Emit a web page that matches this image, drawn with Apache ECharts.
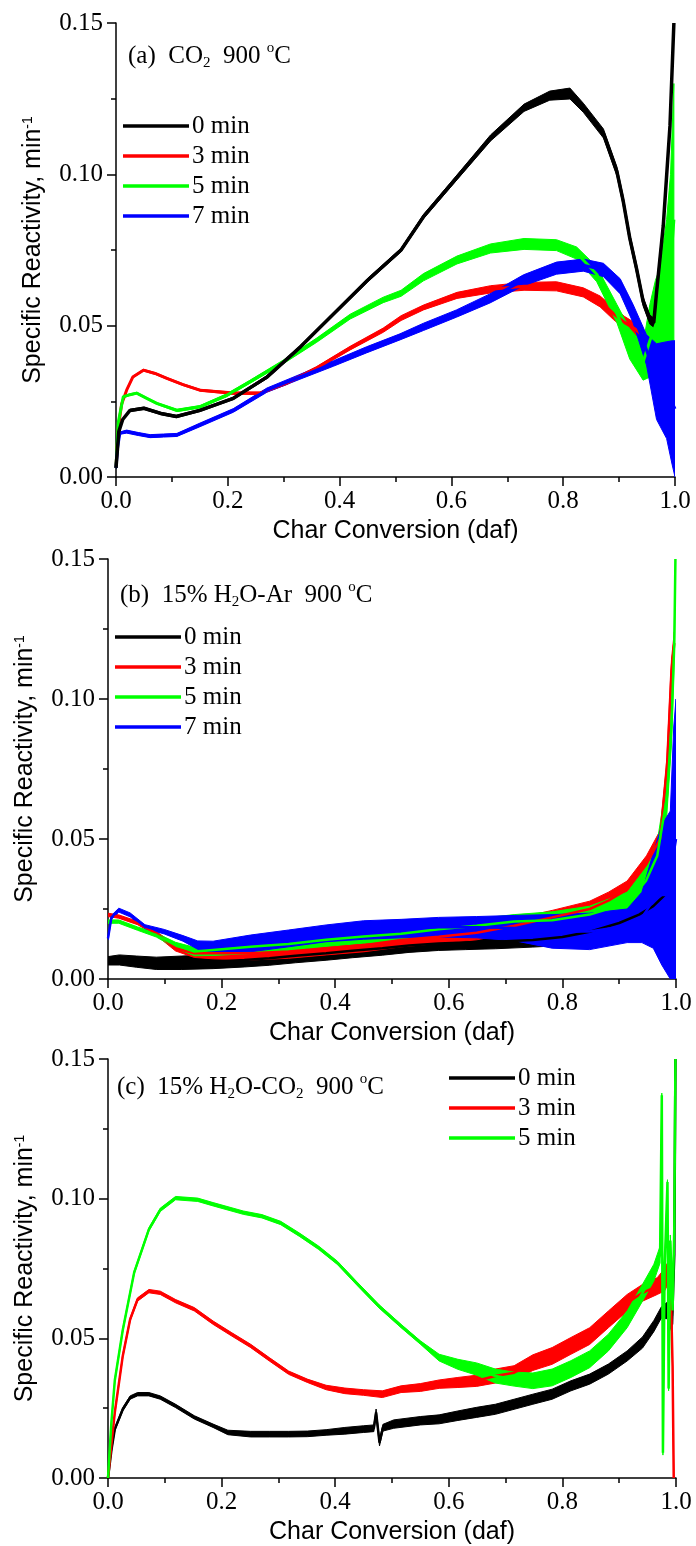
<!DOCTYPE html>
<html><head><meta charset="utf-8">
<script src="https://cdn.jsdelivr.net/npm/echarts@6/dist/echarts.min.js"></script>
<style>html,body{margin:0;padding:0;background:#fff}#c{width:696px;height:1546px}</style>
</head><body><div id="c"></div><script>
// ---------- data ----------
var seriesNames = ['0 min', '3 min', '5 min', '7 min'];
var xTickLabels = ['0.0', '0.2', '0.4', '0.6', '0.8', '1.0'];
var yTickLabels = ['0.00', '0.05', '0.10', '0.15'];

// Panel (a) CO2 900 C  -- x: conversion, y: centre of trace, w: half width of noise band
var aX0 = [0, 0.005, 0.012, 0.025, 0.05, 0.08, 0.108, 0.15, 0.21, 0.27, 0.33, 0.39, 0.45, 0.51, 0.55, 0.61, 0.67, 0.73, 0.776, 0.812, 0.836, 0.872, 0.896, 0.907, 0.919, 0.931, 0.943, 0.955, 0.962, 0.967, 0.979, 0.991, 0.998];
var aY0 = [0.003, 0.015, 0.019, 0.022, 0.0227, 0.021, 0.020, 0.022, 0.026, 0.033, 0.043, 0.054, 0.065, 0.075, 0.086, 0.099, 0.112, 0.122, 0.126, 0.1267, 0.122, 0.1135, 0.101, 0.0915, 0.079, 0.069, 0.058, 0.052, 0.051, 0.061, 0.083, 0.116, 0.15];
var aW0 = [0.0003, 0.0003, 0.0003, 0.0004, 0.0004, 0.0004, 0.0004, 0.0004, 0.0004, 0.0005, 0.0005, 0.0005, 0.0006, 0.0006, 0.0007, 0.0008, 0.001, 0.0012, 0.0015, 0.0018, 0.0015, 0.0015, 0.0015, 0.0015, 0.0015, 0.0015, 0.0015, 0.0015, 0.0015, 0.002, 0.002, 0.002, 0.002];

var aX3 = [0, 0.004, 0.01, 0.019, 0.03, 0.049, 0.07, 0.091, 0.12, 0.15, 0.21, 0.258, 0.305, 0.359, 0.419, 0.478, 0.51, 0.55, 0.61, 0.67, 0.73, 0.788, 0.836, 0.866, 0.89, 0.91, 0.928, 0.94];
var aY3 = [0.003, 0.016, 0.024, 0.0287, 0.033, 0.0353, 0.0342, 0.0326, 0.0305, 0.0287, 0.0277, 0.0277, 0.031, 0.036, 0.0426, 0.0485, 0.0525, 0.056, 0.060, 0.062, 0.063, 0.063, 0.061, 0.058, 0.054, 0.051, 0.049, 0.047];
var aW3 = [0.0003, 0.0003, 0.0003, 0.0003, 0.0003, 0.0003, 0.0003, 0.0003, 0.0003, 0.0003, 0.0004, 0.0004, 0.0005, 0.0005, 0.0006, 0.0007, 0.0008, 0.0008, 0.001, 0.0012, 0.0013, 0.0015, 0.0015, 0.0018, 0.002, 0.002, 0.002, 0.002];

var aX5 = [0, 0.004, 0.013, 0.025, 0.037, 0.055, 0.073, 0.109, 0.15, 0.198, 0.24, 0.299, 0.359, 0.419, 0.478, 0.51, 0.55, 0.61, 0.67, 0.73, 0.788, 0.824, 0.86, 0.896, 0.919, 0.943, 0.955, 0.965, 0.973, 0.985, 0.992, 0.998];
var aY5 = [0.003, 0.018, 0.0265, 0.0272, 0.0277, 0.026, 0.0243, 0.022, 0.0232, 0.027, 0.0315, 0.038, 0.0452, 0.053, 0.0585, 0.0607, 0.066, 0.0717, 0.0755, 0.077, 0.0766, 0.074, 0.067, 0.054, 0.044, 0.038, 0.045, 0.05, 0.052, 0.06, 0.07, 0.085];
var aW5 = [0.0003, 0.0003, 0.0003, 0.0003, 0.0003, 0.0003, 0.0003, 0.0004, 0.0004, 0.0005, 0.0005, 0.0006, 0.0007, 0.0008, 0.0009, 0.001, 0.0012, 0.0013, 0.0015, 0.0018, 0.0018, 0.002, 0.0025, 0.003, 0.005, 0.006, 0.012, 0.015, 0.017, 0.025, 0.03, 0.045];

var aX7 = [0, 0.003, 0.007, 0.019, 0.04, 0.061, 0.085, 0.109, 0.15, 0.21, 0.27, 0.329, 0.389, 0.448, 0.508, 0.55, 0.609, 0.669, 0.729, 0.788, 0.836, 0.872, 0.902, 0.925, 0.949, 0.967, 0.985, 0.995, 1.0];
var aY7 = [0.003, 0.01, 0.0145, 0.015, 0.0142, 0.0135, 0.0137, 0.0139, 0.0172, 0.022, 0.0287, 0.0331, 0.0375, 0.042, 0.0463, 0.0496, 0.054, 0.059, 0.065, 0.069, 0.070, 0.0684, 0.063, 0.054, 0.042, 0.0315, 0.0287, 0.0245, 0.0225];
var aW7 = [0.0003, 0.0004, 0.0004, 0.0005, 0.0005, 0.0005, 0.0005, 0.0005, 0.0006, 0.0006, 0.0007, 0.0008, 0.0009, 0.001, 0.001, 0.0012, 0.0012, 0.0015, 0.0018, 0.002, 0.002, 0.0022, 0.0025, 0.003, 0.005, 0.0125, 0.016, 0.0205, 0.0225];

// Panel (b) 15% H2O-Ar 900 C
var bX0 = [0, 0.02, 0.05, 0.085, 0.13, 0.185, 0.24, 0.284, 0.33, 0.384, 0.43, 0.483, 0.53, 0.582, 0.63, 0.682, 0.748, 0.8, 0.85, 0.9, 0.935, 0.96, 0.98];
var bY0 = [0.0065, 0.0068, 0.0062, 0.0056, 0.0058, 0.0062, 0.0068, 0.0074, 0.0083, 0.0092, 0.0101, 0.011, 0.012, 0.0127, 0.013, 0.0133, 0.0139, 0.015, 0.017, 0.02, 0.023, 0.026, 0.03];
var bW0 = [0.0015, 0.0018, 0.002, 0.0022, 0.0024, 0.0025, 0.0025, 0.0025, 0.0025, 0.0025, 0.0025, 0.0025, 0.0025, 0.0025, 0.0025, 0.0025, 0.0025, 0.003, 0.003, 0.003, 0.003, 0.003, 0.003];

var bX3 = [0, 0.019, 0.052, 0.085, 0.119, 0.152, 0.185, 0.251, 0.318, 0.384, 0.45, 0.516, 0.582, 0.649, 0.715, 0.782, 0.848, 0.881, 0.914, 0.948, 0.972, 0.984, 0.992, 0.997];
var bY3 = [0.0229, 0.0223, 0.020, 0.0163, 0.011, 0.0092, 0.0092, 0.0092, 0.0098, 0.011, 0.0121, 0.0139, 0.0151, 0.0165, 0.019, 0.022, 0.025, 0.028, 0.032, 0.041, 0.05, 0.075, 0.11, 0.12];
var bW3 = [0.0006, 0.0006, 0.0006, 0.0007, 0.001, 0.0015, 0.002, 0.0024, 0.0024, 0.0024, 0.0024, 0.0024, 0.0024, 0.0025, 0.0025, 0.0025, 0.0028, 0.003, 0.003, 0.003, 0.003, 0.004, 0.004, 0.004];

var bX5 = [0, 0.019, 0.052, 0.085, 0.119, 0.152, 0.185, 0.251, 0.318, 0.384, 0.45, 0.516, 0.582, 0.649, 0.715, 0.782, 0.848, 0.914, 0.947, 0.967, 0.984, 0.992, 0.997, 0.999];
var bY5 = [0.0205, 0.0205, 0.018, 0.0157, 0.0121, 0.0098, 0.0104, 0.0115, 0.0125, 0.014, 0.0152, 0.0162, 0.0178, 0.019, 0.0205, 0.021, 0.023, 0.027, 0.035, 0.044, 0.065, 0.09, 0.12, 0.15];
var bW5 = [0.0006, 0.0006, 0.0006, 0.0007, 0.001, 0.0015, 0.002, 0.0024, 0.0024, 0.0024, 0.0024, 0.0024, 0.0024, 0.0025, 0.0025, 0.003, 0.003, 0.004, 0.005, 0.005, 0.006, 0.006, 0.005, 0.005];

var bX7 = [0, 0.006, 0.019, 0.039, 0.065, 0.099, 0.132, 0.158, 0.185, 0.251, 0.318, 0.384, 0.45, 0.516, 0.582, 0.649, 0.715, 0.782, 0.848, 0.914, 0.94, 0.96, 0.975, 0.99, 0.996, 1.0];
var bY7 = [0.0145, 0.022, 0.0246, 0.0229, 0.0187, 0.0169, 0.0145, 0.0121, 0.0115, 0.0127, 0.0145, 0.0163, 0.0175, 0.018, 0.0185, 0.0185, 0.0182, 0.017, 0.017, 0.019, 0.022, 0.028, 0.03, 0.03, 0.045, 0.05];
var bW7 = [0.0006, 0.0007, 0.0007, 0.0007, 0.0007, 0.0008, 0.001, 0.0015, 0.002, 0.003, 0.003, 0.003, 0.0033, 0.0033, 0.0035, 0.0038, 0.0045, 0.006, 0.0065, 0.006, 0.009, 0.017, 0.025, 0.03, 0.045, 0.05];

// Panel (c) 15% H2O-CO2 900 C
var cX0 = [0, 0.006, 0.012, 0.026, 0.039, 0.052, 0.072, 0.092, 0.119, 0.152, 0.185, 0.211, 0.251, 0.284, 0.318, 0.351, 0.384, 0.417, 0.45, 0.468, 0.472, 0.478, 0.484, 0.503, 0.55, 0.583, 0.616, 0.649, 0.682, 0.715, 0.748, 0.782, 0.815, 0.848, 0.881, 0.914, 0.941, 0.961, 0.974, 0.985, 0.993, 0.997, 0.999];
var cY0 = [0, 0.01, 0.0175, 0.0246, 0.0288, 0.030, 0.030, 0.0288, 0.0258, 0.0217, 0.0187, 0.0163, 0.0157, 0.0157, 0.0157, 0.0158, 0.0163, 0.0169, 0.0175, 0.0178, 0.0235, 0.0127, 0.018, 0.0193, 0.0205, 0.021, 0.0223, 0.0235, 0.0246, 0.0264, 0.0282, 0.030, 0.033, 0.0354, 0.039, 0.0437, 0.0485, 0.0544, 0.0592, 0.06, 0.055, 0.08, 0.15];
var cW0 = [0.0006, 0.0006, 0.0006, 0.0006, 0.0006, 0.0006, 0.0006, 0.0006, 0.0006, 0.0006, 0.0006, 0.0008, 0.001, 0.001, 0.001, 0.001, 0.001, 0.0012, 0.0012, 0.0012, 0.0012, 0.0012, 0.0012, 0.0015, 0.0015, 0.0016, 0.0017, 0.0018, 0.0018, 0.0018, 0.0018, 0.0018, 0.0018, 0.0018, 0.0018, 0.0018, 0.002, 0.002, 0.002, 0.003, 0.003, 0.001, 0.001];

var cX3 = [0, 0.006, 0.012, 0.026, 0.039, 0.052, 0.072, 0.092, 0.119, 0.152, 0.185, 0.218, 0.251, 0.284, 0.318, 0.351, 0.384, 0.417, 0.45, 0.483, 0.516, 0.55, 0.583, 0.616, 0.649, 0.682, 0.715, 0.748, 0.782, 0.815, 0.848, 0.881, 0.914, 0.941, 0.967, 0.98, 0.99, 0.994, 0.996];
var cY3 = [0, 0.012, 0.0235, 0.0437, 0.0568, 0.0639, 0.0669, 0.0663, 0.0633, 0.0604, 0.0556, 0.0514, 0.0473, 0.0425, 0.0377, 0.0348, 0.0324, 0.0312, 0.0306, 0.030, 0.0318, 0.0324, 0.0336, 0.0342, 0.0348, 0.0365, 0.0377, 0.0413, 0.0437, 0.0473, 0.0508, 0.0568, 0.0627, 0.0663, 0.0687, 0.071, 0.075, 0.04, 0.0];
var cW3 = [0.0006, 0.0006, 0.0006, 0.0006, 0.0006, 0.0006, 0.0006, 0.0006, 0.0006, 0.0006, 0.0006, 0.0006, 0.0006, 0.0006, 0.0006, 0.0006, 0.0008, 0.001, 0.001, 0.0012, 0.0012, 0.0014, 0.0015, 0.0018, 0.002, 0.0025, 0.0025, 0.0028, 0.003, 0.003, 0.003, 0.003, 0.003, 0.003, 0.003, 0.004, 0.004, 0.001, 0.001];

var cX5 = [0, 0.006, 0.012, 0.026, 0.046, 0.072, 0.092, 0.119, 0.158, 0.185, 0.238, 0.271, 0.304, 0.337, 0.371, 0.404, 0.437, 0.477, 0.516, 0.55, 0.583, 0.616, 0.649, 0.682, 0.715, 0.748, 0.782, 0.815, 0.848, 0.881, 0.914, 0.941, 0.961, 0.972, 0.975, 0.977, 0.98, 0.985, 0.987, 0.99, 0.994, 0.997, 0.999];
var cY5 = [0, 0.02, 0.035, 0.053, 0.0735, 0.089, 0.096, 0.1002, 0.0996, 0.098, 0.095, 0.0937, 0.0913, 0.0871, 0.0824, 0.077, 0.0699, 0.0615, 0.0544, 0.0485, 0.0431, 0.0407, 0.039, 0.0365, 0.0354, 0.0348, 0.036, 0.039, 0.0425, 0.0485, 0.0568, 0.0663, 0.0735, 0.08, 0.137, 0.009, 0.075, 0.106, 0.032, 0.085, 0.06, 0.09, 0.15];
var cW5 = [0.0006, 0.0006, 0.0006, 0.0006, 0.0006, 0.0006, 0.0006, 0.0006, 0.0006, 0.0006, 0.0006, 0.0006, 0.0006, 0.0006, 0.0006, 0.0006, 0.0006, 0.0006, 0.0006, 0.0006, 0.0012, 0.0018, 0.0022, 0.0025, 0.0025, 0.0028, 0.003, 0.003, 0.003, 0.003, 0.003, 0.003, 0.003, 0.003, 0.0008, 0.0008, 0.0008, 0.0008, 0.0008, 0.002, 0.002, 0.001, 0.001];

// ---------- styling / layout ----------
var YMAX = 0.15;
var COLORS = { '0 min': '#000000', '3 min': '#ff0000', '5 min': '#00ff00', '7 min': '#0000ff' };
var SERIF = 'Liberation Serif';
var SANS = 'Liberation Sans';
var grids = [
  { left: 116, top: 23, width: 559, height: 454 },
  { left: 108, top: 559, width: 568, height: 420 },
  { left: 108, top: 1059, width: 568, height: 420 }
];

var series = [];
function addTrace(gi, name, xs, ys, ws, width) {
  var color = COLORS[name];
  series.push({
    type: 'custom', name: name + ' band ' + gi, coordinateSystem: 'cartesian2d',
    xAxisIndex: gi, yAxisIndex: gi, clip: true, silent: true, animation: false,
    data: [[xs[0], ys[0]]],
    renderItem: function (params, api) {
      var up = [], lo = [];
      for (var i = 0; i < xs.length; i++) {
        up.push(api.coord([xs[i], Math.min(YMAX, ys[i] + ws[i])]));
        lo.push(api.coord([xs[i], Math.max(0, ys[i] - ws[i])]));
      }
      return { type: 'polygon', shape: { points: up.concat(lo.reverse()) },
               style: { fill: color, stroke: color, lineWidth: 1 } };
    }
  });
  series.push({
    type: 'line', name: name, xAxisIndex: gi, yAxisIndex: gi,
    data: xs.map(function (x, i) { return [x, ys[i]]; }),
    showSymbol: false, symbol: 'none', clip: true, animation: false, silent: true,
    lineStyle: { color: color, width: width }, itemStyle: { color: color }
  });
}
// panel a (black drawn last)
addTrace(0, '3 min', aX3, aY3, aW3, 3);
addTrace(0, '5 min', aX5, aY5, aW5, 3);
addTrace(0, '7 min', aX7, aY7, aW7, 3);
addTrace(0, '0 min', aX0, aY0, aW0, 3.5);
// panel b
addTrace(1, '0 min', bX0, bY0, bW0, 2.5);
addTrace(1, '3 min', bX3, bY3, bW3, 2.5);
addTrace(1, '5 min', bX5, bY5, bW5, 2.5);
addTrace(1, '7 min', bX7, bY7, bW7, 2.5);
// panel c
addTrace(2, '0 min', cX0, cY0, cW0, 2.5);
addTrace(2, '3 min', cX3, cY3, cW3, 2.5);
addTrace(2, '5 min', cX5, cY5, cW5, 2.5);

function xAxisFor(gi) {
  return {
    type: 'value', gridIndex: gi, min: 0, max: 1, interval: 0.2,
    axisLine: { show: true, onZero: false, lineStyle: { color: '#000', width: 1.5 } },
    axisTick: { show: true, inside: false, length: 9, lineStyle: { color: '#000', width: 1.5 } },
    minorTick: { show: true, splitNumber: 2, length: 5, lineStyle: { color: '#000', width: 1.5 } },
    splitLine: { show: false },
    axisLabel: { margin: 12, color: '#000', fontFamily: SERIF, fontSize: 25,
      formatter: function (v) { return xTickLabels[Math.round(v / 0.2)]; } },
    name: 'Char Conversion (daf)', nameLocation: 'middle', nameGap: 42,
    nameTextStyle: { color: '#000', fontFamily: SANS, fontSize: 25, fontWeight: 'normal' }
  };
}
function yAxisFor(gi) {
  return {
    type: 'value', gridIndex: gi, min: 0, max: 0.15, interval: 0.05,
    axisLine: { show: true, onZero: false, lineStyle: { color: '#000', width: 1.5 } },
    axisTick: { show: true, inside: false, length: 9, lineStyle: { color: '#000', width: 1.5 } },
    minorTick: { show: true, splitNumber: 2, length: 5, lineStyle: { color: '#000', width: 1.5 } },
    splitLine: { show: false },
    axisLabel: { margin: 13, color: '#000', fontFamily: SERIF, fontSize: 25,
      formatter: function (v) { return yTickLabels[Math.round(v / 0.05)]; } },
    name: 'Specific Reactivity, min{sup|-1}', nameLocation: 'middle', nameGap: 70,
    nameTextStyle: { color: '#000', fontFamily: SANS, fontSize: 25, fontWeight: 'normal',
      rich: { sup: { fontFamily: SANS, fontSize: 14, lineHeight: 14, verticalAlign: 'top', color: '#000', fontWeight: 'normal' } } }
  };
}

var titleRich = {
  t: { fontFamily: SERIF, fontSize: 25, lineHeight: 30, color: '#000', fontWeight: 'normal' },
  sub: { fontFamily: SERIF, fontSize: 15, lineHeight: 15, verticalAlign: 'bottom', color: '#000', fontWeight: 'normal' },
  sup: { fontFamily: SERIF, fontSize: 15, lineHeight: 15, verticalAlign: 'top', color: '#000', fontWeight: 'normal' }
};
function legendFor(left, top, names) {
  return {
    left: left, top: top, orient: 'vertical', itemGap: 0, itemWidth: 66, itemHeight: 3.5,
    icon: 'rect', padding: 0, data: names, selectedMode: false,
    textStyle: { fontFamily: SERIF, fontSize: 25, lineHeight: 30, color: '#000', padding: [0, 0, 0, -2] }
  };
}

var chart = echarts.init(document.getElementById('c'), null, { renderer: 'canvas' });
chart.setOption({
  animation: false,
  backgroundColor: '#fff',
  grid: grids,
  xAxis: [xAxisFor(0), xAxisFor(1), xAxisFor(2)],
  yAxis: [yAxisFor(0), yAxisFor(1), yAxisFor(2)],
  title: [
    { left: 128, top: 41, padding: 0, text: '{t|(a)  CO}{sub|2}{t|  900 }{sup|o}{t|C}', textStyle: { fontWeight: 'normal', rich: titleRich } },
    { left: 120, top: 580, padding: 0, text: '{t|(b)  15% H}{sub|2}{t|O-Ar  900 }{sup|o}{t|C}', textStyle: { fontWeight: 'normal', rich: titleRich } },
    { left: 117, top: 1072, padding: 0, text: '{t|(c)  15% H}{sub|2}{t|O-CO}{sub|2}{t|  900 }{sup|o}{t|C}', textStyle: { fontWeight: 'normal', rich: titleRich } }
  ],
  legend: [
    legendFor(123, 111, seriesNames),
    legendFor(115, 622, seriesNames),
    legendFor(449, 1063, seriesNames.slice(0, 3))
  ],
  series: series
});
</script></body></html>
